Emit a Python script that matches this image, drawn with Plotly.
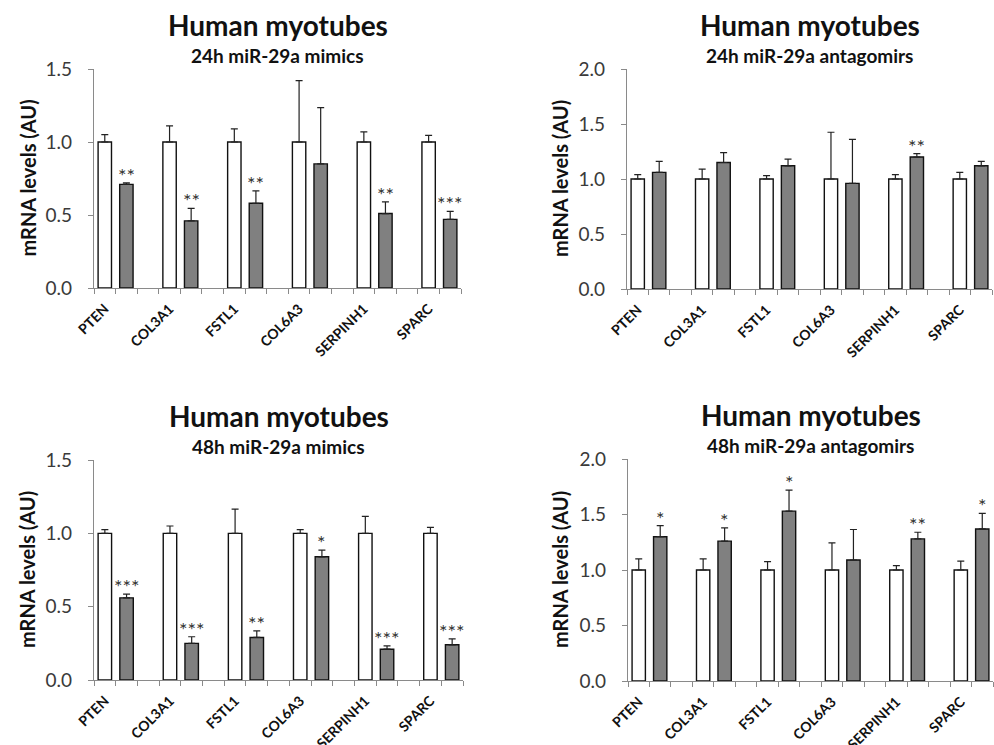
import plotly.graph_objects as go

genes = ["PTEN", "COL3A1", "FSTL1", "COL6A3", "SERPINH1", "SPARC"]

# Panel 1: 24h mimics
p1_ctrl = [1.0, 1.0, 1.0, 1.0, 1.0, 1.0]
p1_ctrl_err = [0.05, 0.11, 0.09, 0.42, 0.07, 0.045]
p1_trt = [0.71, 0.46, 0.58, 0.85, 0.51, 0.47]
p1_trt_err = [0.01, 0.085, 0.085, 0.385, 0.08, 0.055]
p1_sig = ["**", "**", "**", "", "**", "***"]

# Panel 2: 24h antagomirs
p2_ctrl = [1.0, 1.0, 1.0, 1.0, 1.0, 1.0]
p2_ctrl_err = [0.04, 0.09, 0.03, 0.425, 0.04, 0.06]
p2_trt = [1.06, 1.15, 1.12, 0.96, 1.20, 1.12]
p2_trt_err = [0.10, 0.09, 0.06, 0.40, 0.03, 0.04]
p2_sig = ["", "", "", "", "**", ""]

# Panel 3: 48h mimics
p3_ctrl = [1.0, 1.0, 1.0, 1.0, 1.0, 1.0]
p3_ctrl_err = [0.025, 0.05, 0.165, 0.025, 0.115, 0.04]
p3_trt = [0.56, 0.25, 0.29, 0.84, 0.21, 0.24]
p3_trt_err = [0.025, 0.045, 0.045, 0.045, 0.023, 0.04]
p3_sig = ["***", "***", "**", "*", "***", "***"]

# Panel 4: 48h antagomirs
p4_ctrl = [1.0, 1.0, 1.0, 1.0, 1.0, 1.0]
p4_ctrl_err = [0.10, 0.10, 0.075, 0.245, 0.04, 0.08]
p4_trt = [1.30, 1.26, 1.53, 1.09, 1.28, 1.37]
p4_trt_err = [0.10, 0.12, 0.19, 0.275, 0.06, 0.14]
p4_sig = ["*", "*", "*", "", "**", "*"]

subtitles = ["24h miR-29a mimics", "24h miR-29a antagomirs",
             "48h miR-29a mimics", "48h miR-29a antagomirs"]
yranges = [1.5, 2.0, 1.5, 2.0]
ytickvals = [[0, 0.5, 1.0, 1.5], [0, 0.5, 1.0, 1.5, 2.0],
             [0, 0.5, 1.0, 1.5], [0, 0.5, 1.0, 1.5, 2.0]]

panels = [
    (p1_ctrl, p1_ctrl_err, p1_trt, p1_trt_err, p1_sig),
    (p2_ctrl, p2_ctrl_err, p2_trt, p2_trt_err, p2_sig),
    (p3_ctrl, p3_ctrl_err, p3_trt, p3_trt_err, p3_sig),
    (p4_ctrl, p4_ctrl_err, p4_trt, p4_trt_err, p4_sig),
]

W, H = 994, 745
# plot-area pixel boxes: (x0, x1, ytop, ybottom)
boxes = [(94, 461, 69, 288), (627, 992, 69, 289),
         (94, 463, 460, 680), (628, 993, 459, 681)]

FONT = "Lato, 'Open Sans', sans-serif"
AXIS_COL = "#8a8a8a"

fig = go.Figure()
annotations = []
ctrl_x = [3 * i for i in range(len(genes))]
trt_x = [3 * i + 1 for i in range(len(genes))]

for k, (ctrl, ctrl_err, trt, trt_err, sig) in enumerate(panels):
    xa = "x" if k == 0 else f"x{k+1}"
    ya = "y" if k == 0 else f"y{k+1}"
    fig.add_trace(go.Bar(
        x=ctrl_x, y=ctrl, width=0.62, xaxis=xa, yaxis=ya,
        marker=dict(color="white", line=dict(color="#111111", width=1.4)),
        error_y=dict(type="data", array=ctrl_err, symmetric=False,
                     arrayminus=[0] * len(ctrl), color="#222222",
                     thickness=1.2, width=3.5),
        showlegend=False))
    fig.add_trace(go.Bar(
        x=trt_x, y=trt, width=0.62, xaxis=xa, yaxis=ya,
        marker=dict(color="#808080", line=dict(color="#111111", width=1.4)),
        error_y=dict(type="data", array=trt_err, symmetric=False,
                     arrayminus=[0] * len(trt), color="#222222",
                     thickness=1.2, width=3.5),
        showlegend=False))

    x0, x1, yt, yb = boxes[k]
    dom_x = [x0 / W, min(x1 / W, 1.0)]
    dom_y = [1 - yb / H, 1 - yt / H]
    sfx = "" if k == 0 else str(k + 1)
    fig.layout["xaxis" + sfx] = dict(
        domain=dom_x, anchor=ya, range=[-0.5, 16.5], automargin=False,
        tickmode="array", tickvals=ctrl_x, ticktext=genes,
        tickangle=-45, ticks="", showgrid=False, zeroline=False,
        ticklabelstandoff=6,
        showline=True, linecolor=AXIS_COL, linewidth=1.3,
        tickfont=dict(family=FONT, size=14, color="#111111", weight="bold"),
        minor=dict(tickmode="array", tickvals=[v - 0.5 for v in range(18)],
                   ticks="outside", ticklen=5, tickcolor=AXIS_COL, tickwidth=1.2,
                   showgrid=False),
        fixedrange=True)
    fig.layout["yaxis" + sfx] = dict(
        domain=dom_y, anchor=xa, range=[0, yranges[k]], automargin=False,
        tickmode="array", tickvals=ytickvals[k], tickformat=".1f",
        ticks="outside", ticklen=5, tickcolor=AXIS_COL, tickwidth=1.2,
        ticklabelstandoff=12,
        showgrid=False, zeroline=False,
        showline=True, linecolor=AXIS_COL, linewidth=1.3,
        tickfont=dict(family=FONT, size=19, color="#3a3a3a"),
        fixedrange=True)

    # significance stars
    for i, s in enumerate(sig):
        if s:
            annotations.append(dict(
                x=trt_x[i], y=trt[i] + trt_err[i], xref=xa, yref=ya,
                text=s, showarrow=False, yanchor="bottom", yshift=-6,
                font=dict(family=FONT, size=20, color="#333333")))

    cx = (x0 + x1) / 2 / W
    annotations.append(dict(
        x=cx, y=1 - (yt - 44) / H, xref="paper", yref="paper",
        text="<b>Human myotubes</b>", showarrow=False,
        xanchor="center", yanchor="middle",
        font=dict(family=FONT, size=28, color="#111111")))
    annotations.append(dict(
        x=cx, y=1 - (yt - 14) / H, xref="paper", yref="paper",
        text="<b>" + subtitles[k] + "</b>", showarrow=False,
        xanchor="center", yanchor="middle",
        font=dict(family=FONT, size=19, color="#111111")))
    ytx = 27 if k in (0, 2) else 560
    annotations.append(dict(
        x=ytx / W, y=1 - (yt + yb) / 2 / H, xref="paper", yref="paper",
        text="<b>mRNA levels (AU)</b>", showarrow=False, textangle=-90,
        xanchor="center", yanchor="middle",
        font=dict(family=FONT, size=20, color="#111111")))

fig.update_layout(
    width=W, height=H, margin=dict(l=0, r=0, t=0, b=0, autoexpand=False),
    paper_bgcolor="white", plot_bgcolor="white",
    barmode="overlay", annotations=annotations, showlegend=False)

fig.write_html(
    "out.html",
    config={"displayModeBar": False},
    post_script="document.body.style.margin='0';"
                "document.body.style.overflow='hidden';"
                "document.documentElement.style.overflow='hidden';")
